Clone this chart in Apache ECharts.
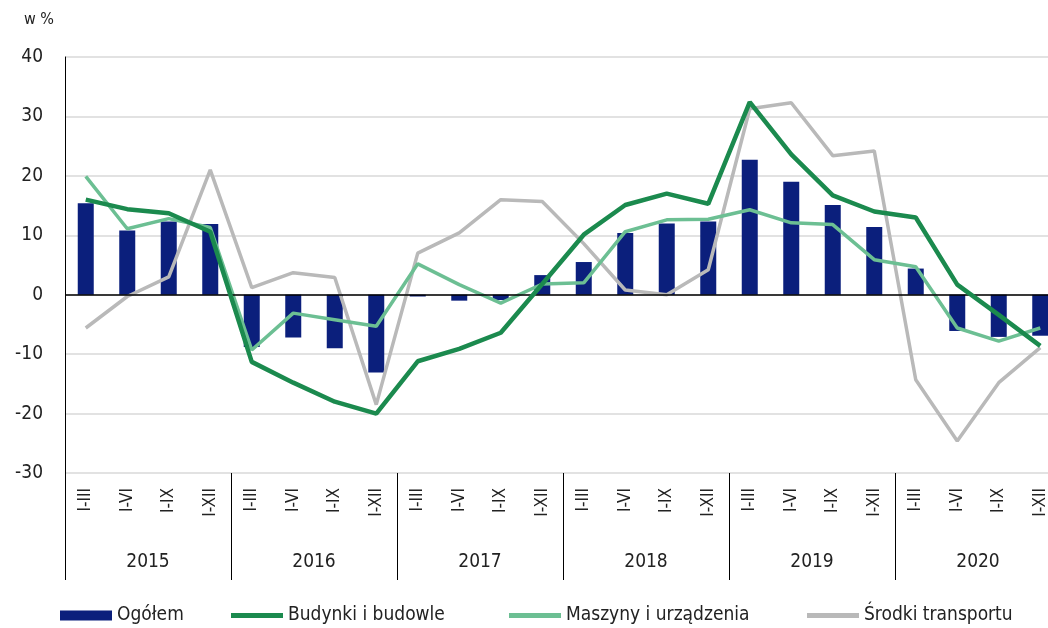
<!DOCTYPE html>
<html>
<head>
<meta charset="utf-8">
<script src="https://cdn.jsdelivr.net/npm/echarts@6/dist/echarts.min.js"></script>
<style>
  html, body { margin: 0; padding: 0; background: #fff; overflow: hidden; }
  #chart { width: 1061px; height: 628px; }
</style>
</head>
<body>
<div id="chart"></div>
<script>
// kategorie (okresy narastające) i lata
var periods = ['I-III', 'I-VI', 'I-IX', 'I-XII'];
var years = ['2015', '2016', '2017', '2018', '2019', '2020'];

// dane w %
var ogolem = [15.4, 10.8, 12.3, 11.9, -8.8, -7.2, -9.0, -13.1, -0.3, -1.0, -0.9, 3.3,
              5.5, 10.4, 12.0, 12.3, 22.7, 19.0, 15.1, 11.4, 4.4, -6.1, -7.1, -6.9];
var budynki = [16.0, 14.4, 13.7, 10.6, -11.3, -14.8, -18.0, -20.0, -11.2, -9.1, -6.4, 1.8,
               10.1, 15.1, 17.0, 15.3, 32.4, 23.6, 16.7, 14.0, 13.0, 1.7, -3.4, -8.6];
var maszyny = [19.9, 11.1, 12.8, 11.3, -9.3, -3.1, -4.2, -5.3, 5.2, 1.7, -1.4, 1.8,
               2.0, 10.6, 12.6, 12.7, 14.3, 12.1, 11.8, 5.9, 4.7, -5.6, -7.8, -5.6];
var srodki = [-5.6, -0.3, 3.0, 21.0, 1.2, 3.7, 2.9, -18.5, 7.0, 10.4, 16.0, 15.7,
              8.6, 0.8, 0.0, 4.2, 31.3, 32.3, 23.4, 24.2, -14.3, -24.6, -14.8, -8.9];

var categories = [];
years.forEach(function (y) {
  periods.forEach(function (p) { categories.push(p); });
});

var font = "'DejaVu Sans Condensed', 'Liberation Sans Narrow', 'Roboto', sans-serif";

// ikona legendy: cienka linia w polu 52x10
var lineIcon = 'path://M0,0 L0.01,0 L0,0.01 Z M0,2.5 L52,2.5 L52,7.5 L0,7.5 Z M0,10 L0.01,10 L0,9.99 Z';

function legendItem(name, left, icon) {
  return {
    data: [{ name: name, icon: icon }],
    left: left,
    bottom: -2,
    itemWidth: 52,
    itemHeight: 10,
    textStyle: { fontFamily: font, fontSize: 19, color: '#222' }
  };
}

var chart = echarts.init(document.getElementById('chart'));
var option = {
  animation: false,
  textStyle: { fontFamily: font },
  title: {
    text: 'w %',
    left: 19,
    top: 7,
    textStyle: { fontFamily: font, fontSize: 16, fontWeight: 'normal', color: '#222' }
  },
  legend: [
    legendItem('Ogółem', 55, 'rect'),
    legendItem('Budynki i budowle', 226, lineIcon),
    legendItem('Maszyny i urządzenia', 504, lineIcon),
    legendItem('Środki transportu', 802, lineIcon)
  ],
  grid: { left: 65, top: 57, right: 0, bottom: 155 },
  xAxis: [
    {
      type: 'category',
      data: categories,
      position: 'bottom',
      axisLine: { show: false },
      axisTick: { show: false },
      axisLabel: { rotate: 90, margin: 15, fontSize: 17, color: '#222', interval: 0 }
    },
    {
      type: 'category',
      data: years,
      position: 'bottom',
      axisLine: { show: false },
      axisTick: { show: true, length: 107, lineStyle: { color: '#000', width: 1 } },
      axisLabel: { margin: 80, fontSize: 19, color: '#222' }
    }
  ],
  yAxis: {
    type: 'value',
    min: -30,
    max: 40,
    interval: 10,
    axisLine: { show: true, lineStyle: { color: '#000', width: 1 } },
    axisTick: { show: false },
    axisLabel: { fontSize: 19, color: '#222', margin: 22 },
    splitLine: { lineStyle: { color: '#d9d9d9', width: 1.5 } }
  },
  series: [
    {
      name: 'Ogółem',
      type: 'bar',
      data: ogolem,
      barWidth: 16,
      itemStyle: { color: '#0b1f7c' },
      z: 2,
      markLine: {
        silent: true,
        symbol: 'none',
        label: { show: false },
        lineStyle: { color: '#000', width: 1.5, type: 'solid' },
        data: [{ yAxis: 0 }]
      }
    },
    {
      name: 'Budynki i budowle',
      type: 'line',
      data: budynki,
      symbol: 'none',
      lineStyle: { color: '#1b8a4e', width: 4.5 },
      itemStyle: { color: '#1b8a4e' },
      z: 5
    },
    {
      name: 'Maszyny i urządzenia',
      type: 'line',
      data: maszyny,
      symbol: 'none',
      lineStyle: { color: '#6cbf93', width: 3.5 },
      itemStyle: { color: '#6cbf93' },
      z: 4
    },
    {
      name: 'Środki transportu',
      type: 'line',
      data: srodki,
      symbol: 'none',
      lineStyle: { color: '#b9b9b9', width: 3.5 },
      itemStyle: { color: '#b9b9b9' },
      z: 3
    }
  ]
};
chart.setOption(option);
</script>
</body>
</html>
